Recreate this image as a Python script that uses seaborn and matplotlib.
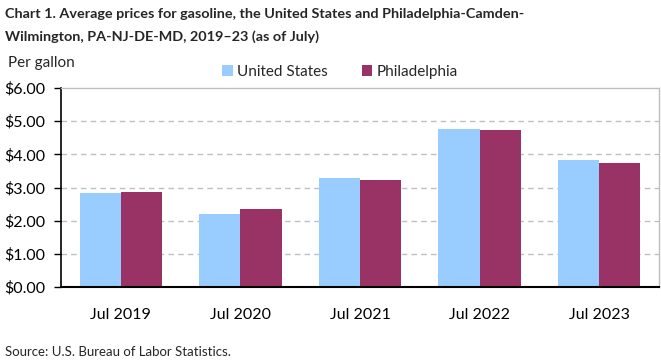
import matplotlib
matplotlib.use("Agg")
import matplotlib.pyplot as plt
import seaborn as sns
import pandas as pd
from matplotlib.patches import Patch

categories = ["Jul 2019", "Jul 2020", "Jul 2021", "Jul 2022", "Jul 2023"]
us_values = [2.82, 2.21, 3.30, 4.76, 3.82]
phil_values = [2.85, 2.36, 3.24, 4.73, 3.73]
series_names = ["United States", "Philadelphia"]
colors = ["#99CCFF", "#993366"]
y_ticks = [0, 1, 2, 3, 4, 5, 6]
y_tick_labels = ["$0.00", "$1.00", "$2.00", "$3.00", "$4.00", "$5.00", "$6.00"]

df = pd.DataFrame({
    "period": categories * 2,
    "series": [series_names[0]] * len(categories) + [series_names[1]] * len(categories),
    "value": us_values + phil_values,
})

sns.set_theme(style="white")
plt.rcParams["font.family"] = ["Lato", "DejaVu Sans"]

W, H = 661, 361
fig = plt.figure(figsize=(W / 100, H / 100), dpi=100)
ax = fig.add_axes([61 / W, (H - 287) / H, (659 - 61) / W, (287 - 88) / H])

sns.barplot(data=df, x="period", y="value", hue="series", hue_order=series_names,
            palette=colors, width=0.69, saturation=1, ax=ax, legend=False,
            edgecolor="none", linewidth=0)

ax.set_ylim(0, 6)
ax.set_xlim(-0.5, len(categories) - 0.5)
ax.set_yticks(y_ticks)
ax.set_yticklabels(y_tick_labels, fontsize=11.5, color="#000000")
ax.set_xticklabels(categories, fontsize=11.5, color="#000000")
ax.set_xlabel("")
ax.set_ylabel("")
ax.tick_params(axis="y", which="major", left=True, length=5, width=1, color="black", pad=6)
ax.tick_params(axis="x", which="major", bottom=False, pad=9)

for y in y_ticks[1:-1]:
    ax.axhline(y, color="#BFBFBF", linestyle=(0, (4, 3)), linewidth=1, zorder=0)
ax.set_axisbelow(True)

ax.spines["left"].set_color("black")
ax.spines["left"].set_linewidth(1.2)
ax.spines["bottom"].set_color("black")
ax.spines["bottom"].set_linewidth(1.5)
ax.spines["top"].set_color("#BFBFBF")
ax.spines["top"].set_linewidth(1)
ax.spines["right"].set_color("#BFBFBF")
ax.spines["right"].set_linewidth(1)

fig.text(5 / W, 1 - 14 / H, "Chart 1. Average prices for gasoline, the United States and Philadelphia-Camden-",
         fontsize=10.4, fontweight="bold", va="center", ha="left")
fig.text(5 / W, 1 - 37 / H, "Wilmington, PA-NJ-DE-MD, 2019\u201323 (as of July)",
         fontsize=10.4, fontweight="bold", va="center", ha="left")
fig.text(8 / W, 1 - 63 / H, "Per gallon", fontsize=11, va="center", ha="left")
fig.text(5 / W, 1 - 352 / H, "Source: U.S. Bureau of Labor Statistics.", fontsize=9.5, va="center", ha="left")

handles = [Patch(facecolor=c, edgecolor="none") for c in colors]
fig.legend(handles, series_names, loc="center", bbox_to_anchor=(340 / W, 1 - 72 / H),
           ncol=2, frameon=False, fontsize=11, handlelength=0.7, handleheight=0.7,
           handletextpad=0.3, columnspacing=2.2)

fig.savefig("out.png", dpi=100)
